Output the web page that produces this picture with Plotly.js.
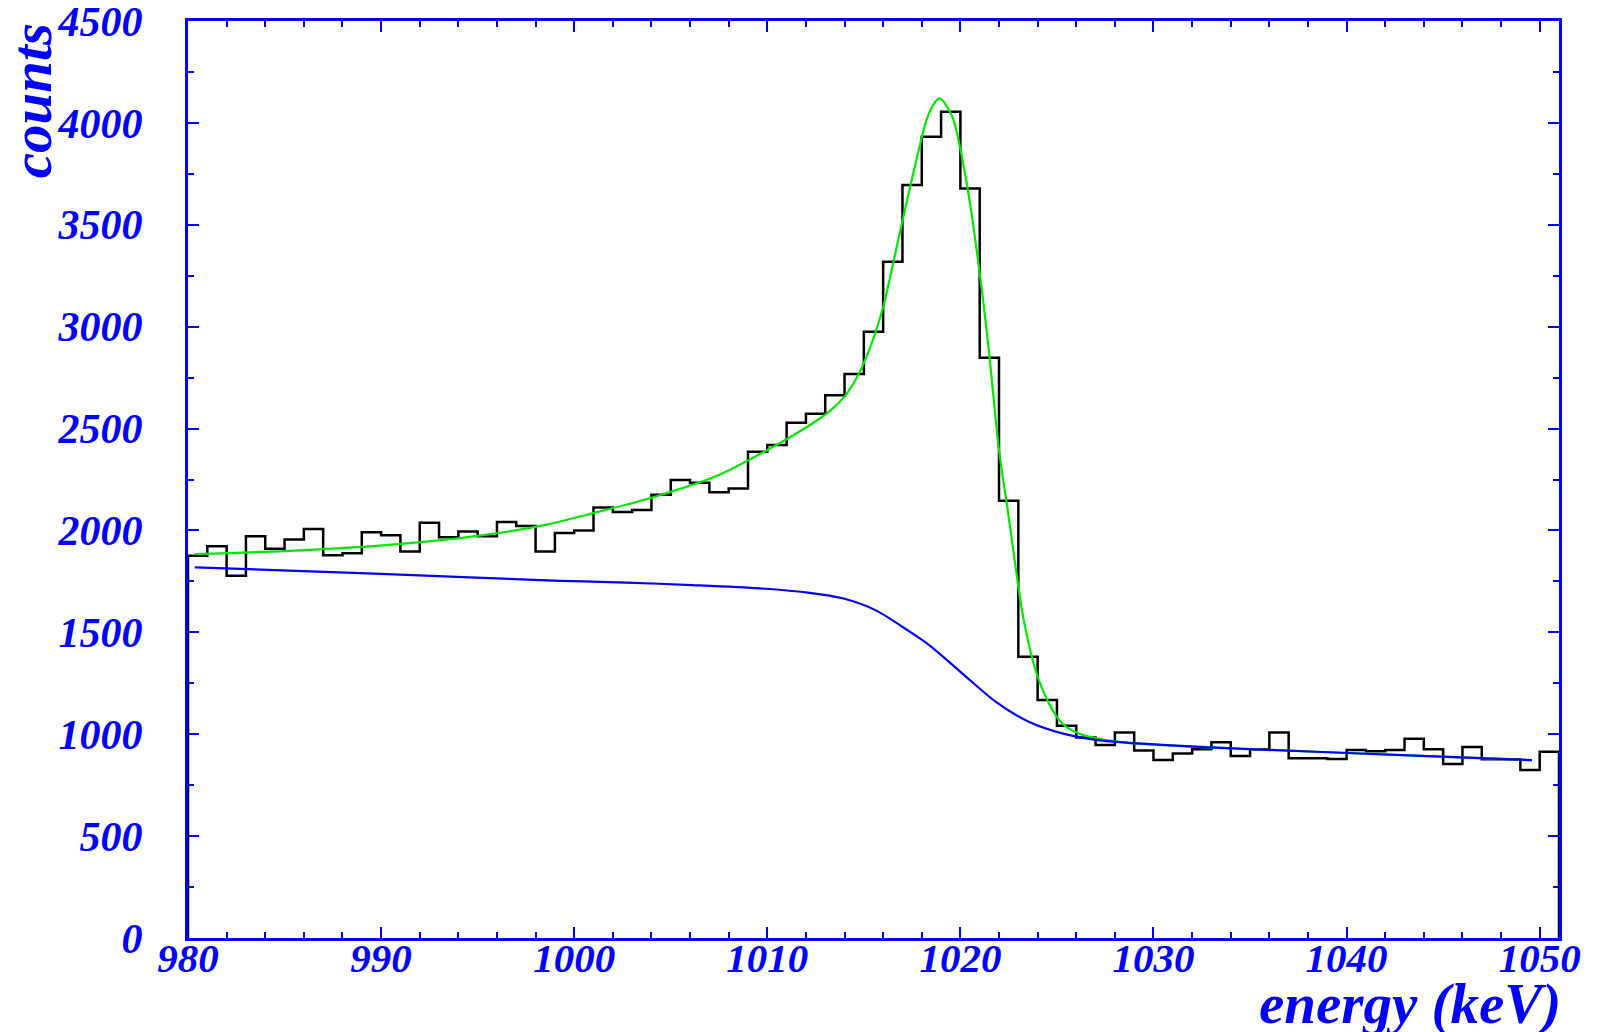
<!DOCTYPE html>
<html>
<head>
<meta charset="utf-8">
<script src="https://cdn.plot.ly/plotly-3.0.1.min.js"></script>
<style>
  html, body { margin: 0; padding: 0; background: #ffffff; }
  #plot { width: 1597px; height: 1032px; }
</style>
</head>
<body>
<div id="plot"></div>
<script>
// Spectrum: 1 keV bins starting at 980 keV
const binStart = 980;
const binWidth = 1;
const counts = [
  1876, 1923, 1778, 1972, 1910, 1956, 2007, 1878, 1888, 1991,
  1976, 1897, 2038, 1966, 1995, 1972, 2041, 2022, 1897, 1988,
  2000, 2113, 2090, 2100, 2175, 2247, 2234, 2188, 2206, 2386,
  2419, 2528, 2573, 2664, 2768, 2975, 3319, 3695, 3932, 4055,
  3678, 2848, 2146, 1380, 1168, 1042, 984, 947, 1008, 920,
  873, 906, 926, 960, 893, 926, 1008, 882, 882, 878,
  922, 917, 922, 978, 926, 854, 937, 877, 877, 824,
  914
];

// Total fit (peak + background)
const fitEnergy = [
  980.35, 985.0, 990.1, 995.3, 998.7, 1000.6, 1004.05, 1007.5, 1010.61, 1012.33,
  1013.2, 1014.06, 1014.75, 1015.27, 1015.7, 1016.04, 1016.82, 1017.68, 1018.37, 1018.92,
  1019.58, 1020.27, 1020.96, 1021.47, 1022.0, 1022.5, 1023.0, 1023.28, 1023.89, 1024.58,
  1025.27, 1026.13, 1027.34, 1028.7, 1033.2, 1038.4, 1043.55, 1049.6
];
const fitCounts = [
  1884, 1899, 1927, 1977, 2031, 2076, 2162, 2272, 2427, 2525,
  2583, 2664, 2771, 2885, 3000, 3110, 3441, 3801, 4046, 4120,
  4030, 3735, 3294, 2885, 2394, 2067, 1724, 1560, 1315, 1152,
  1053, 1004, 975, 958, 934, 914, 895, 873
];

// Background component
const bkgEnergy = [
  980.35, 990.0, 999.26, 1002.7, 1006.1, 1009.6, 1012.2, 1013.9, 1015.6, 1017.3,
  1018.37, 1020.09, 1021.82, 1023.54, 1025.27, 1027.0, 1028.7, 1033.2, 1038.4, 1043.55,
  1049.6
];
const bkgCounts = [
  1819, 1787, 1753, 1744, 1732, 1716, 1694, 1667, 1609, 1508,
  1438, 1299, 1160, 1061, 1004, 972, 958, 934, 914, 895,
  873
];

// Tick labels
const xTickVals = [980, 990, 1000, 1010, 1020, 1030, 1040, 1050];
const yTickVals = [0, 500, 1000, 1500, 2000, 2500, 3000, 3500, 4000, 4500];

// Outline of the histogram as a step line, closed down to zero at both ends
const histX = [binStart];
const histY = [0];
counts.forEach((c, i) => {
  histX.push(binStart + i * binWidth);
  histY.push(c);
});
histX.push(binStart + counts.length * binWidth);
histY.push(counts[counts.length - 1]);
histX.push(binStart + counts.length * binWidth);
histY.push(0);

const axisBlue = '#0000ff';
const serif = '"Liberation Serif", "Times New Roman", serif';
const xTickFont = { family: serif, size: 41, color: axisBlue, weight: 'bold', style: 'italic' };
const yTickFont = { family: serif, size: 42, color: axisBlue, weight: 'bold', style: 'italic' };
const titleFont = { family: serif, size: 57, color: axisBlue, weight: 'bold', style: 'italic' };

const traces = [
  {
    x: histX, y: histY, type: 'scatter', mode: 'lines',
    line: { color: '#000000', width: 2.5, shape: 'hv' },
    hoverinfo: 'skip', showlegend: false
  },
  {
    x: fitEnergy, y: fitCounts, type: 'scatter', mode: 'lines',
    line: { color: '#00e600', width: 2.2, shape: 'spline', smoothing: 0.8 },
    hoverinfo: 'skip', showlegend: false
  },
  {
    x: bkgEnergy, y: bkgCounts, type: 'scatter', mode: 'lines',
    line: { color: axisBlue, width: 2.2, shape: 'spline', smoothing: 0.8 },
    hoverinfo: 'skip', showlegend: false
  }
];

const layout = {
  width: 1597,
  height: 1032,
  autosize: false,
  paper_bgcolor: '#ffffff',
  plot_bgcolor: '#ffffff',
  margin: { l: 188, r: 38, t: 21, b: 94, pad: 0 },
  showlegend: false,
  xaxis: {
    range: [980, 1051],
    tickmode: 'array',
    tickvals: xTickVals,
    ticktext: xTickVals.map(String),
    ticks: 'inside',
    ticklen: 11,
    tickwidth: 2,
    tickcolor: axisBlue,
    minor: { dtick: 2, tick0: 980, ticks: 'inside', ticklen: 6, tickwidth: 2, tickcolor: axisBlue, showgrid: false },
    showline: true,
    linecolor: axisBlue,
    linewidth: 3,
    mirror: 'allticks',
    showgrid: false,
    zeroline: false,
    tickfont: xTickFont,
    ticklabelstandoff: -18,
    ticklabeloverflow: 'allow',
    layer: 'below traces'
  },
  yaxis: {
    range: [0, 4500],
    tickmode: 'array',
    tickvals: yTickVals,
    ticktext: yTickVals.map(String),
    ticks: 'inside',
    ticklen: 11,
    tickwidth: 2,
    tickcolor: axisBlue,
    minor: { dtick: 250, tick0: 0, ticks: 'inside', ticklen: 6, tickwidth: 2, tickcolor: axisBlue, showgrid: false },
    showline: true,
    linecolor: axisBlue,
    linewidth: 3,
    mirror: 'allticks',
    showgrid: false,
    zeroline: false,
    tickfont: yTickFont,
    ticklabelstandoff: 34,
    ticklabeloverflow: 'allow',
    layer: 'below traces'
  },
  annotations: [
    {
      text: 'counts',
      xref: 'paper', yref: 'paper',
      x: -0.114, y: 1.0,
      xanchor: 'center', yanchor: 'top',
      textangle: -90,
      showarrow: false,
      font: titleFont
    },
    {
      text: 'energy (keV)',
      xref: 'paper', yref: 'paper',
      x: 1.003, y: -0.072,
      xanchor: 'right', yanchor: 'middle',
      showarrow: false,
      font: titleFont
    }
  ]
};

Plotly.newPlot('plot', traces, layout, { staticPlot: true, displayModeBar: false });
</script>
</body>
</html>
